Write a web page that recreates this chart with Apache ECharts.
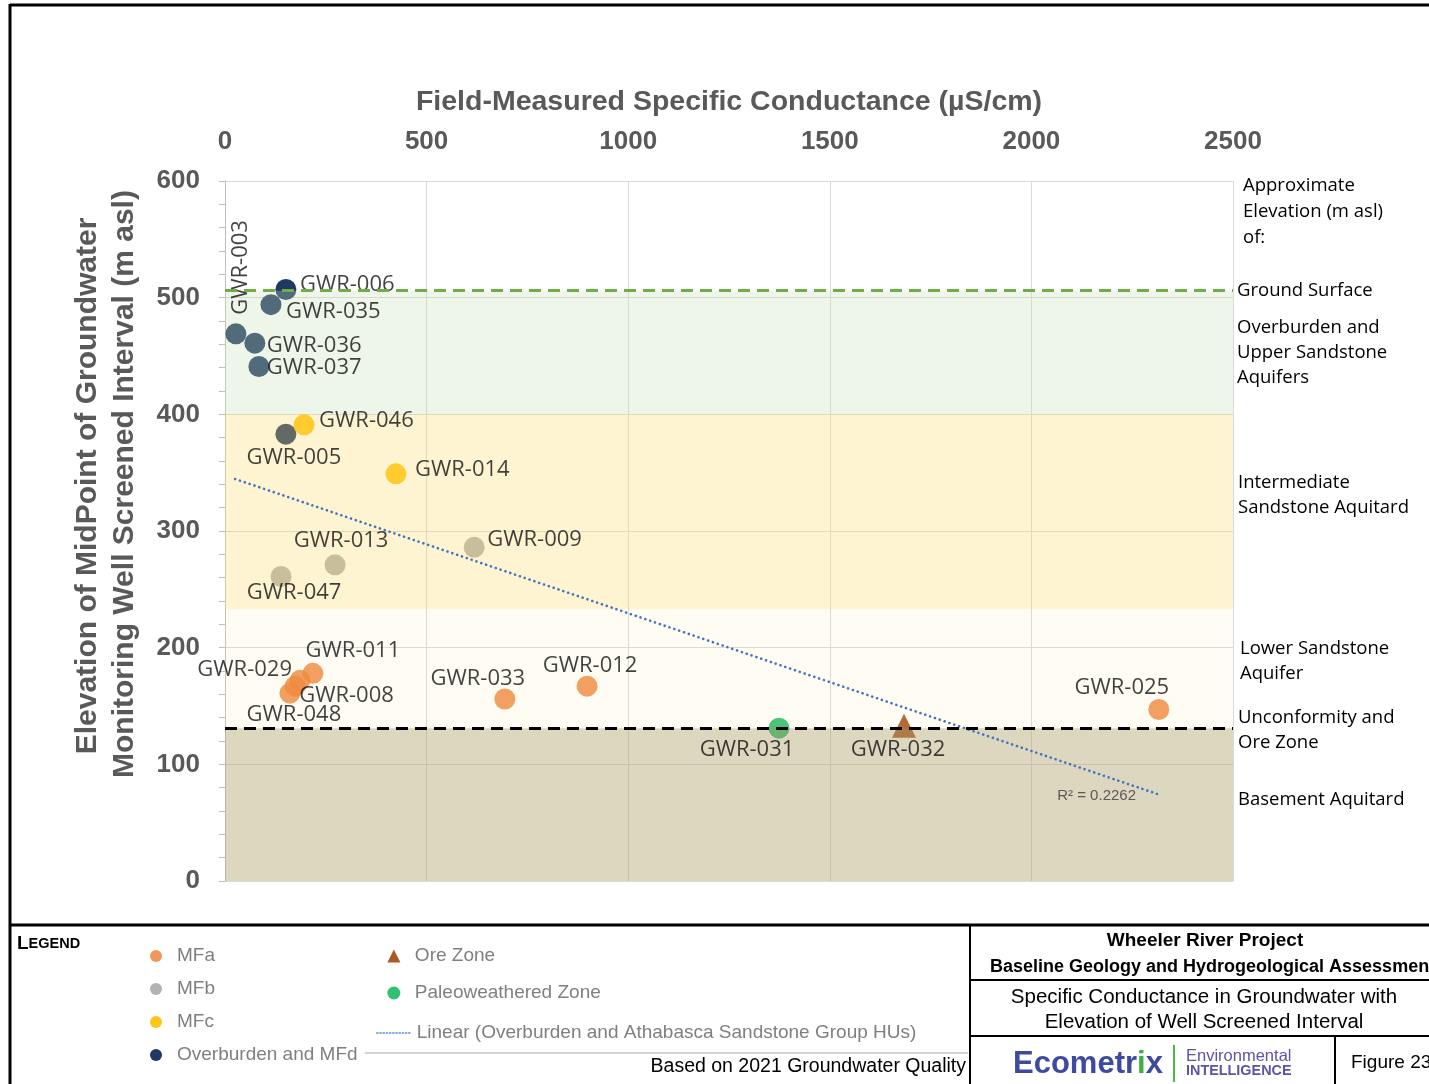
<!DOCTYPE html>
<html lang="en">
<head>
<meta charset="UTF-8">
<title>Specific Conductance vs Elevation of Well Screened Interval</title>
<script src="https://cdn.jsdelivr.net/npm/echarts@6/dist/echarts.min.js"></script>
<style>
    html, body { margin: 0; padding: 0; background: #fff; }
    #main { width: 1429px; height: 1084px; }
</style>
</head>
<body>
<div id="main"></div>
<script type="text/javascript">
// values
var wells = ['GWR-003', 'GWR-006', 'GWR-035', 'GWR-036', 'GWR-037', 'GWR-005',
             'GWR-046', 'GWR-014',
             'GWR-009', 'GWR-013', 'GWR-047',
             'GWR-011', 'GWR-029', 'GWR-008', 'GWR-048', 'GWR-033', 'GWR-012', 'GWR-025',
             'GWR-031', 'GWR-032'];
var conductance = [27, 151, 114, 74, 84, 151,
                   196, 424,
                   618, 273, 139,
                   218, 186, 174, 161, 694, 898, 2316,
                   1374, 1684];
var elevation = [469, 507, 494, 461, 441, 383,
                 391, 349,
                 286, 271, 261,
                 178, 172, 167, 161, 156, 167, 147,
                 131, 133];
var unit = ['MFd', 'MFd', 'MFd', 'MFd', 'MFd', 'MFd',
            'MFc', 'MFc',
            'MFb', 'MFb', 'MFb',
            'MFa', 'MFa', 'MFa', 'MFa', 'MFa', 'MFa', 'MFa',
            'Paleo', 'Ore'];

// linear trend (Overburden and Athabasca Sandstone Group HUs)
var trendX = [25, 2312];
var trendY = [344.6, 74.6];
var rSquared = '0.2262';

// approximate elevation of hydrostratigraphic units (m asl)
var groundSurface = 506;
var unitTops = [506, 400, 233, 131];   // green / yellow / cream / basement
var unconformity = 131;

var xTicks = { min: 0, max: 2500, step: 500 };
var yTicks = { min: 0, max: 600, step: 100 };

// label placement next to each point (pixels)
var labelLayout = {
    'GWR-003': { align: 'left', off: [19, 5], rotate: 90 },
    'GWR-006': { align: 'left', off: [14, -5] },
    'GWR-035': { align: 'left', off: [15, 7] },
    'GWR-036': { align: 'left', off: [12, 3] },
    'GWR-037': { align: 'left', off: [8, 1] },
    'GWR-005': { align: 'center', off: [8, 24] },
    'GWR-046': { align: 'left', off: [15, -4] },
    'GWR-014': { align: 'left', off: [19, -4] },
    'GWR-009': { align: 'left', off: [13, -8] },
    'GWR-013': { align: 'center', off: [6, -24] },
    'GWR-047': { align: 'center', off: [13, 16] },
    'GWR-011': { align: 'center', off: [40, -23] },
    'GWR-029': { align: 'right', off: [-8, -11] },
    'GWR-008': { align: 'left', off: [4, 10] },
    'GWR-048': { align: 'center', off: [4, 22] },
    'GWR-033': { align: 'center', off: [-27, -20] },
    'GWR-012': { align: 'center', off: [3, -20] },
    'GWR-025': { align: 'center', off: [-37, -22] },
    'GWR-031': { align: 'center', off: [-32, 22] },
    'GWR-032': { align: 'center', off: [-6, 24] }
};

var labelFont = 'Open Sans';
var axisFont = 'Liberation Sans';

function pointsOf(key) {
    var out = [];
    for (var i = 0; i < wells.length; i++) {
        if (unit[i] !== key) continue;
        out.push({ name: wells[i], value: [conductance[i], elevation[i]] });
    }
    return out;
}

// well names, drawn above the unit bands
function labelPoints() {
    var out = [];
    for (var i = 0; i < wells.length; i++) {
        var lay = labelLayout[wells[i]];
        out.push({
            name: wells[i],
            value: [conductance[i], elevation[i]],
            label: {
                show: true,
                position: [1, 1],
                align: lay.align,
                verticalAlign: 'middle',
                offset: lay.off,
                rotate: lay.rotate || 0
            }
        });
    }
    return out;
}

function scatter(name, key, color, symbol, size, opacity) {
    return {
        name: name,
        type: 'scatter',
        z: 2,
        symbol: symbol,
        symbolSize: size,
        itemStyle: { color: color, opacity: opacity },
        data: pointsOf(key)
    };
}

var trendName = 'Linear (Overburden and Athabasca Sandstone Group HUs)';
var legendText = { color: '#7f7f7f', fontSize: 19, lineHeight: 20, fontFamily: axisFont };

var myChart = echarts.init(document.getElementById('main'));
var option = {
    animation: false,
    backgroundColor: '#fff',
    grid: { left: 225, top: 181, width: 1008, height: 700 },
    xAxis: {
        type: 'value',
        position: 'top',
        min: xTicks.min, max: xTicks.max, interval: xTicks.step,
        axisLine: { show: false },
        axisTick: { show: false },
        axisLabel: { fontSize: 26, fontWeight: 'bold', color: '#595959', margin: 26, fontFamily: axisFont,
                     formatter: function (v) { return String(v); } },
        splitLine: { lineStyle: { color: '#d9d9d9', width: 1 } },
        name: 'Field-Measured Specific Conductance (µS/cm)',
        nameLocation: 'middle',
        nameGap: 64,
        nameTextStyle: { fontSize: 28.5, fontWeight: 'bold', color: '#595959', fontFamily: axisFont }
    },
    yAxis: {
        type: 'value',
        min: yTicks.min, max: yTicks.max, interval: yTicks.step,
        axisLine: { show: true, lineStyle: { color: '#bfbfbf' } },
        axisTick: { show: true, length: 6, lineStyle: { color: '#bfbfbf' } },
        minorTick: { show: true, splitNumber: 5, length: 6, lineStyle: { color: '#bfbfbf' } },
        axisLabel: { fontSize: 26, fontWeight: 'bold', color: '#595959', margin: 25, fontFamily: axisFont },
        splitLine: { lineStyle: { color: '#d9d9d9', width: 1 } }
    },
    legend: [
        {
            orient: 'vertical', left: 145, top: 941,
            itemWidth: 32, itemHeight: 12, itemGap: 13,
            textStyle: legendText,
            data: [
                { name: 'MFa', icon: 'circle' },
                { name: 'MFb', icon: 'circle' },
                { name: 'MFc', icon: 'circle' },
                { name: 'Overburden and MFd', icon: 'circle' }
            ]
        },
        {
            orient: 'vertical', left: 374, top: 941,
            itemWidth: 32, itemHeight: 13, itemGap: 17,
            textStyle: legendText,
            data: [
                { name: 'Ore Zone', icon: 'path://M0,14L0,14M32,14L32,14M9,14L16,0L23,14Z' },
                { name: 'Paleoweathered Zone', icon: 'circle' }
            ]
        },
        {
            orient: 'vertical', left: 371, top: 1018,
            itemWidth: 35, itemHeight: 13,
            textStyle: legendText,
            data: [
                { name: trendName,
                  itemStyle: { color: 'rgba(0,0,0,0)', borderWidth: 0 },
                  lineStyle: { color: '#5b8bd6', width: 1.5, type: [1.2, 2] } }
            ]
        }
    ],
    series: [
        scatter('Overburden and MFd', 'MFd', '#203864', 'circle', 21, 1),
        scatter('MFc', 'MFc', '#FFC000', 'circle', 21, 0.9),
        scatter('MFb', 'MFb', '#A5A5A5', 'circle', 21, 0.85),
        scatter('MFa', 'MFa', '#ED7D31', 'circle', 21, 0.8),
        scatter('Paleoweathered Zone', 'Paleo', '#00B050', 'circle', 21, 0.8),
        scatter('Ore Zone', 'Ore', '#A5501A', 'triangle', 24, 0.95),
        {
            // hydrostratigraphic bands, laid over the points like the source figure
            name: 'bands',
            type: 'line',
            z: 3,
            data: [],
            markArea: {
                silent: true,
                z: 3,
                data: [
                    [{ yAxis: unitTops[0], itemStyle: { color: 'rgba(197,224,180,0.3)' } }, { yAxis: unitTops[1] }],
                    [{ yAxis: unitTops[1], itemStyle: { color: 'rgba(255,217,102,0.3)' } }, { yAxis: unitTops[2] }],
                    [{ yAxis: unitTops[2], itemStyle: { color: 'rgba(255,230,153,0.12)' } }, { yAxis: unitTops[3] }],
                    [{ yAxis: unitTops[3], itemStyle: { color: 'rgba(180,165,110,0.44)' } }, { yAxis: yTicks.min }]
                ]
            }
        },
        {
            name: 'well labels',
            type: 'scatter',
            z: 4,
            silent: true,
            symbolSize: 2,
            itemStyle: { color: 'rgba(0,0,0,0)' },
            label: {
                formatter: '{b}',
                color: '#111',
                fontSize: 22,
                fontFamily: labelFont
            },
            data: labelPoints()
        },
        {
            name: trendName,
            type: 'line',
            z: 4,
            symbol: 'none',
            showSymbol: false,
            itemStyle: { color: '#4472C4' },
            lineStyle: { color: '#4472C4', width: 2.6, type: [0.1, 5], cap: 'round' },
            data: [[trendX[0], trendY[0]], [trendX[1], trendY[1]]],
            endLabel: {
                show: true,
                formatter: 'R² = ' + rSquared,
                offset: [-108, 2],
                color: '#595959',
                fontSize: 15,
                fontFamily: axisFont
            },
            markLine: {
                silent: true,
                z: 5,
                symbol: 'none',
                label: { show: false },
                lineStyle: { width: 3, type: [12, 7] },
                data: [
                    { yAxis: groundSurface, lineStyle: { color: '#70AD47' } },
                    { yAxis: unconformity, lineStyle: { color: '#000' } }
                ]
            }
        }
    ],
    graphic: [
        // figure frame
        { type: 'line', shape: { x1: 10, y1: 5, x2: 1429, y2: 5 }, style: { stroke: '#000', lineWidth: 3 } },
        { type: 'line', shape: { x1: 10, y1: 4, x2: 10, y2: 1084 }, style: { stroke: '#000', lineWidth: 3 } },
        { type: 'line', shape: { x1: 10, y1: 925, x2: 1429, y2: 925 }, style: { stroke: '#000', lineWidth: 3 } },
        { type: 'line', shape: { x1: 970, y1: 925, x2: 970, y2: 1084 }, style: { stroke: '#000', lineWidth: 2 } },
        { type: 'line', shape: { x1: 970, y1: 980, x2: 1429, y2: 980 }, style: { stroke: '#000', lineWidth: 2 } },
        { type: 'line', shape: { x1: 970, y1: 1036, x2: 1429, y2: 1036 }, style: { stroke: '#000', lineWidth: 2 } },
        { type: 'line', shape: { x1: 1335, y1: 1036, x2: 1335, y2: 1084 }, style: { stroke: '#000', lineWidth: 2 } },
        { type: 'line', shape: { x1: 365, y1: 1053, x2: 968, y2: 1053 }, style: { stroke: '#a6a6a6', lineWidth: 1 } },

        // y axis title (two lines)
        { type: 'text', x: 88, y: 486, rotation: Math.PI / 2,
          style: { text: 'Elevation of MidPoint of Groundwater', align: 'center', verticalAlign: 'middle',
                   fill: '#595959', font: 'bold 30px "Liberation Sans"' } },
        { type: 'text', x: 125, y: 484, rotation: Math.PI / 2,
          style: { text: 'Monitoring Well Screened Interval (m asl)', align: 'center', verticalAlign: 'middle',
                   fill: '#595959', font: 'bold 30px "Liberation Sans"' } },

        // right-hand unit notes
        { type: 'text', x: 1243, y: 173, style: { text: 'Approximate\nElevation (m asl)\nof:', lineHeight: 26, fill: '#000', font: '18.5px "Open Sans"' } },
        { type: 'text', x: 1237, y: 291, style: { text: 'Ground Surface', verticalAlign: 'middle', fill: '#000', font: '18.5px "Open Sans"' } },
        { type: 'text', x: 1237, y: 315, style: { text: 'Overburden and\nUpper Sandstone\nAquifers', lineHeight: 25, fill: '#000', font: '18.5px "Open Sans"' } },
        { type: 'text', x: 1238, y: 470, style: { text: 'Intermediate\nSandstone Aquitard', lineHeight: 25, fill: '#000', font: '18.5px "Open Sans"' } },
        { type: 'text', x: 1240, y: 636, style: { text: 'Lower Sandstone\nAquifer', lineHeight: 25, fill: '#000', font: '18.5px "Open Sans"' } },
        { type: 'text', x: 1238, y: 705, style: { text: 'Unconformity and\nOre Zone', lineHeight: 25, fill: '#000', font: '18.5px "Open Sans"' } },
        { type: 'text', x: 1238, y: 800, style: { text: 'Basement Aquitard', verticalAlign: 'middle', fill: '#000', font: '18.5px "Open Sans"' } },

        // legend heading and note
        { type: 'text', x: 17, y: 944,
          style: { text: '{a|L}{b|EGEND}', verticalAlign: 'middle',
                   rich: { a: { font: 'bold 19px "Liberation Sans"', fill: '#000' },
                           b: { font: 'bold 14.5px "Liberation Sans"', fill: '#000' } } } },
        { type: 'text', x: 966, y: 1067, style: { text: 'Based on 2021 Groundwater Quality', align: 'right', verticalAlign: 'middle',
                   fill: '#000', font: '19.5px "Liberation Sans"' } },

        // title block
        { type: 'text', x: 1205, y: 941, style: { text: 'Wheeler River Project', align: 'center', verticalAlign: 'middle',
                   fill: '#000', font: 'bold 19px "Liberation Sans"' } },
        { type: 'text', x: 990, y: 967, style: { text: 'Baseline Geology and Hydrogeological Assessment', verticalAlign: 'middle',
                   fill: '#000', font: 'bold 18px "Liberation Sans"' } },
        { type: 'text', x: 1204, y: 997, style: { text: 'Specific Conductance in Groundwater with', align: 'center', verticalAlign: 'middle',
                   fill: '#000', font: '20.5px "Liberation Sans"' } },
        { type: 'text', x: 1204, y: 1022, style: { text: 'Elevation of Well Screened Interval', align: 'center', verticalAlign: 'middle',
                   fill: '#000', font: '20.5px "Liberation Sans"' } },
        { type: 'text', x: 1013, y: 1064,
          style: { text: '{m|Ecometr}{g|i}{m|x}', verticalAlign: 'middle',
                   rich: { m: { font: 'bold 31px "Liberation Sans"', fill: '#3d4aa0' },
                           g: { font: 'bold 31px "Liberation Sans"', fill: '#3fae49' } } } },
        { type: 'line', shape: { x1: 1174, y1: 1045, x2: 1174, y2: 1082 }, style: { stroke: '#4cb848', lineWidth: 2 } },
        { type: 'text', x: 1186, y: 1056, style: { text: 'Environmental', verticalAlign: 'middle', fill: '#5a55a5', font: '16.5px "Liberation Sans"' } },
        { type: 'text', x: 1186, y: 1071, style: { text: 'INTELLIGENCE', verticalAlign: 'middle', fill: '#5a55a5', font: 'bold 14.4px "Liberation Sans"' } },
        { type: 'text', x: 1351, y: 1063, style: { text: 'Figure 23', verticalAlign: 'middle', fill: '#000', font: '19px "Liberation Sans"' } }
    ]
};
myChart.setOption(option);
</script>
</body>
</html>
